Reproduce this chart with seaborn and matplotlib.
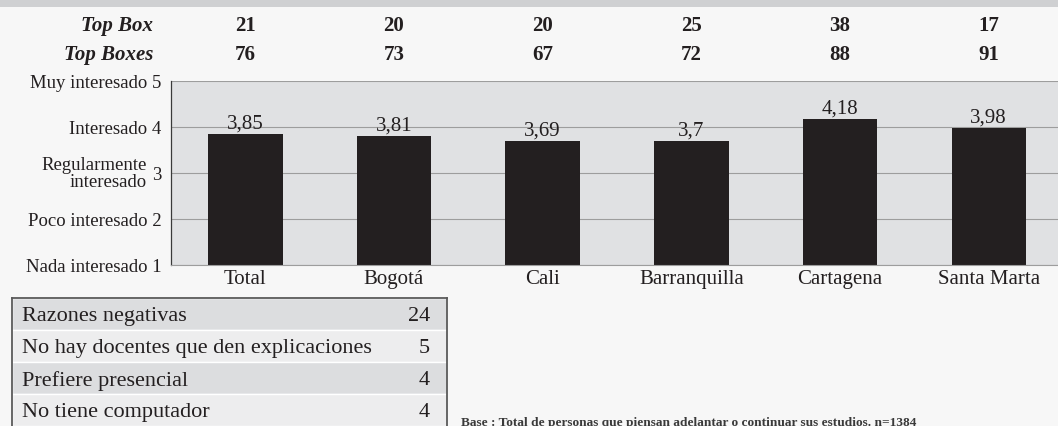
import matplotlib
matplotlib.use("Agg")
import matplotlib.pyplot as plt
import matplotlib.transforms as mtransforms
import seaborn as sns

ciudades = ["Total", "Bogotá", "Cali", "Barranquilla", "Cartagena", "Santa Marta"]
promedio = [3.85, 3.81, 3.69, 3.7, 4.18, 3.98]
top_box = [21, 20, 20, 25, 38, 17]
top_boxes = [76, 73, 67, 72, 88, 91]

niveles = [1, 2, 3, 4, 5]
nombres_nivel = ["Nada interesado", "Poco interesado", "Regularmente\ninteresado",
                 "Interesado", "Muy interesado"]

razones = ["Razones negativas", "No hay docentes que den explicaciones",
           "Prefiere presencial", "No tiene computador"]
razones_valor = [24, 5, 4, 4]

nota = "Base : Total de personas que piensan adelantar o continuar sus estudios. n=1384"

negro = "#231f20"

sns.set_style("white")
plt.rcParams["font.family"] = ["Liberation Serif", "DejaVu Serif"]
plt.rcParams["text.color"] = negro

W, H = 1058, 427
fig = plt.figure(figsize=(W / 100, H / 100), dpi=100, facecolor="#f7f7f7")

# franja gris de arriba (titulo cortado)
fig.add_artist(plt.Rectangle((0, (H - 8) / H), 1, 8 / H, transform=fig.transFigure,
                             color="#cfd0d2", lw=0))

### grafico de barras
ax = fig.add_axes([171 / W, 161 / H, 892 / W, 184 / H])
ax.set_facecolor("#e0e1e3")
sns.barplot(x=ciudades, y=promedio, color=negro, saturation=1, width=0.5,
            linewidth=0, ax=ax)
ax.set_xlim(-0.5, 5.5)
ax.set_ylim(1, 5)
ax.set_xlabel("")
ax.set_ylabel("")

ax.set_yticks(niveles)
etiquetas = []
for n, nombre in zip(niveles, nombres_nivel):
    etiquetas.append(str(n) if "\n" in nombre else f"{nombre} {n}")
ax.set_yticklabels(etiquetas)
ax.annotate(nombres_nivel[2], xy=(0, 3), xycoords=("axes fraction", "data"),
            xytext=(-24, 0), textcoords="offset pixels", ha="right", va="center",
            multialignment="right", linespacing=0.95, fontsize=13.5)

ax.grid(axis="y", color="#9d9d9d", lw=0.8)
ax.set_axisbelow(True)
for lado in ["top", "right"]:
    ax.spines[lado].set_visible(False)
ax.spines["left"].set_color("#3a3a3a")
ax.spines["left"].set_linewidth(0.9)
ax.spines["bottom"].set_color("#9d9d9d")
ax.spines["bottom"].set_linewidth(0.8)

ax.tick_params(axis="y", length=4, width=0.8, color="#3a3a3a", pad=3,
               labelsize=13.5, labelcolor=negro)
ax.tick_params(axis="x", which="major", length=0, pad=3, labelsize=15, labelcolor=negro)
ax.set_xticks([i + 0.5 for i in range(len(ciudades) - 1)], minor=True)
ax.tick_params(axis="x", which="minor", length=2, width=0.8, color="#555555",
               direction="inout")

ax.bar_label(ax.containers[0], labels=[str(v).replace(".", ",") for v in promedio],
             padding=1, fontsize=15, color=negro)

### Top Box / Top Boxes
trans = mtransforms.blended_transform_factory(ax.transData, fig.transFigure)
for fila, (titulo, valores) in enumerate([("Top Box", top_box), ("Top Boxes", top_boxes)]):
    y = (H - 26 - fila * 29) / H
    fig.text(153 / W, y, titulo, ha="right", va="center", fontsize=15,
             fontweight="bold", fontstyle="italic")
    for i, v in enumerate(valores):
        ax.text(i, y, str(v), transform=trans, ha="center", va="center",
                fontsize=15, fontweight="bold", clip_on=False)

### tabla de razones
axt = fig.add_axes([12 / W, 0, 435 / W, 128 / H])
colores = ["#dcdddf" if i % 2 == 0 else "#ededee" for i in range(len(razones))]
axt.barh(range(len(razones)), [1] * len(razones), height=1, left=0, color=colores)
axt.set_xlim(0, 1)
axt.set_ylim(len(razones) - 0.5, -0.5)
axt.set_xticks([])
axt.set_yticks([])
for lado in ["left", "top", "right"]:
    axt.spines[lado].set_color("#5a5a5a")
    axt.spines[lado].set_linewidth(1.3)
axt.spines["bottom"].set_visible(False)
for i, (razon, v) in enumerate(zip(razones, razones_valor)):
    axt.text(10 / 435, i + 0.05, razon, va="center", fontsize=16)
    axt.text(1 - 17 / 435, i + 0.05, str(v), va="center", ha="right", fontsize=16)

fig.text(461 / W, (H - 417) / H, nota, fontsize=9.6, fontweight="bold",
         color="#3a3a3a", va="top")

fig.savefig("out.png", dpi=100, facecolor=fig.get_facecolor())
